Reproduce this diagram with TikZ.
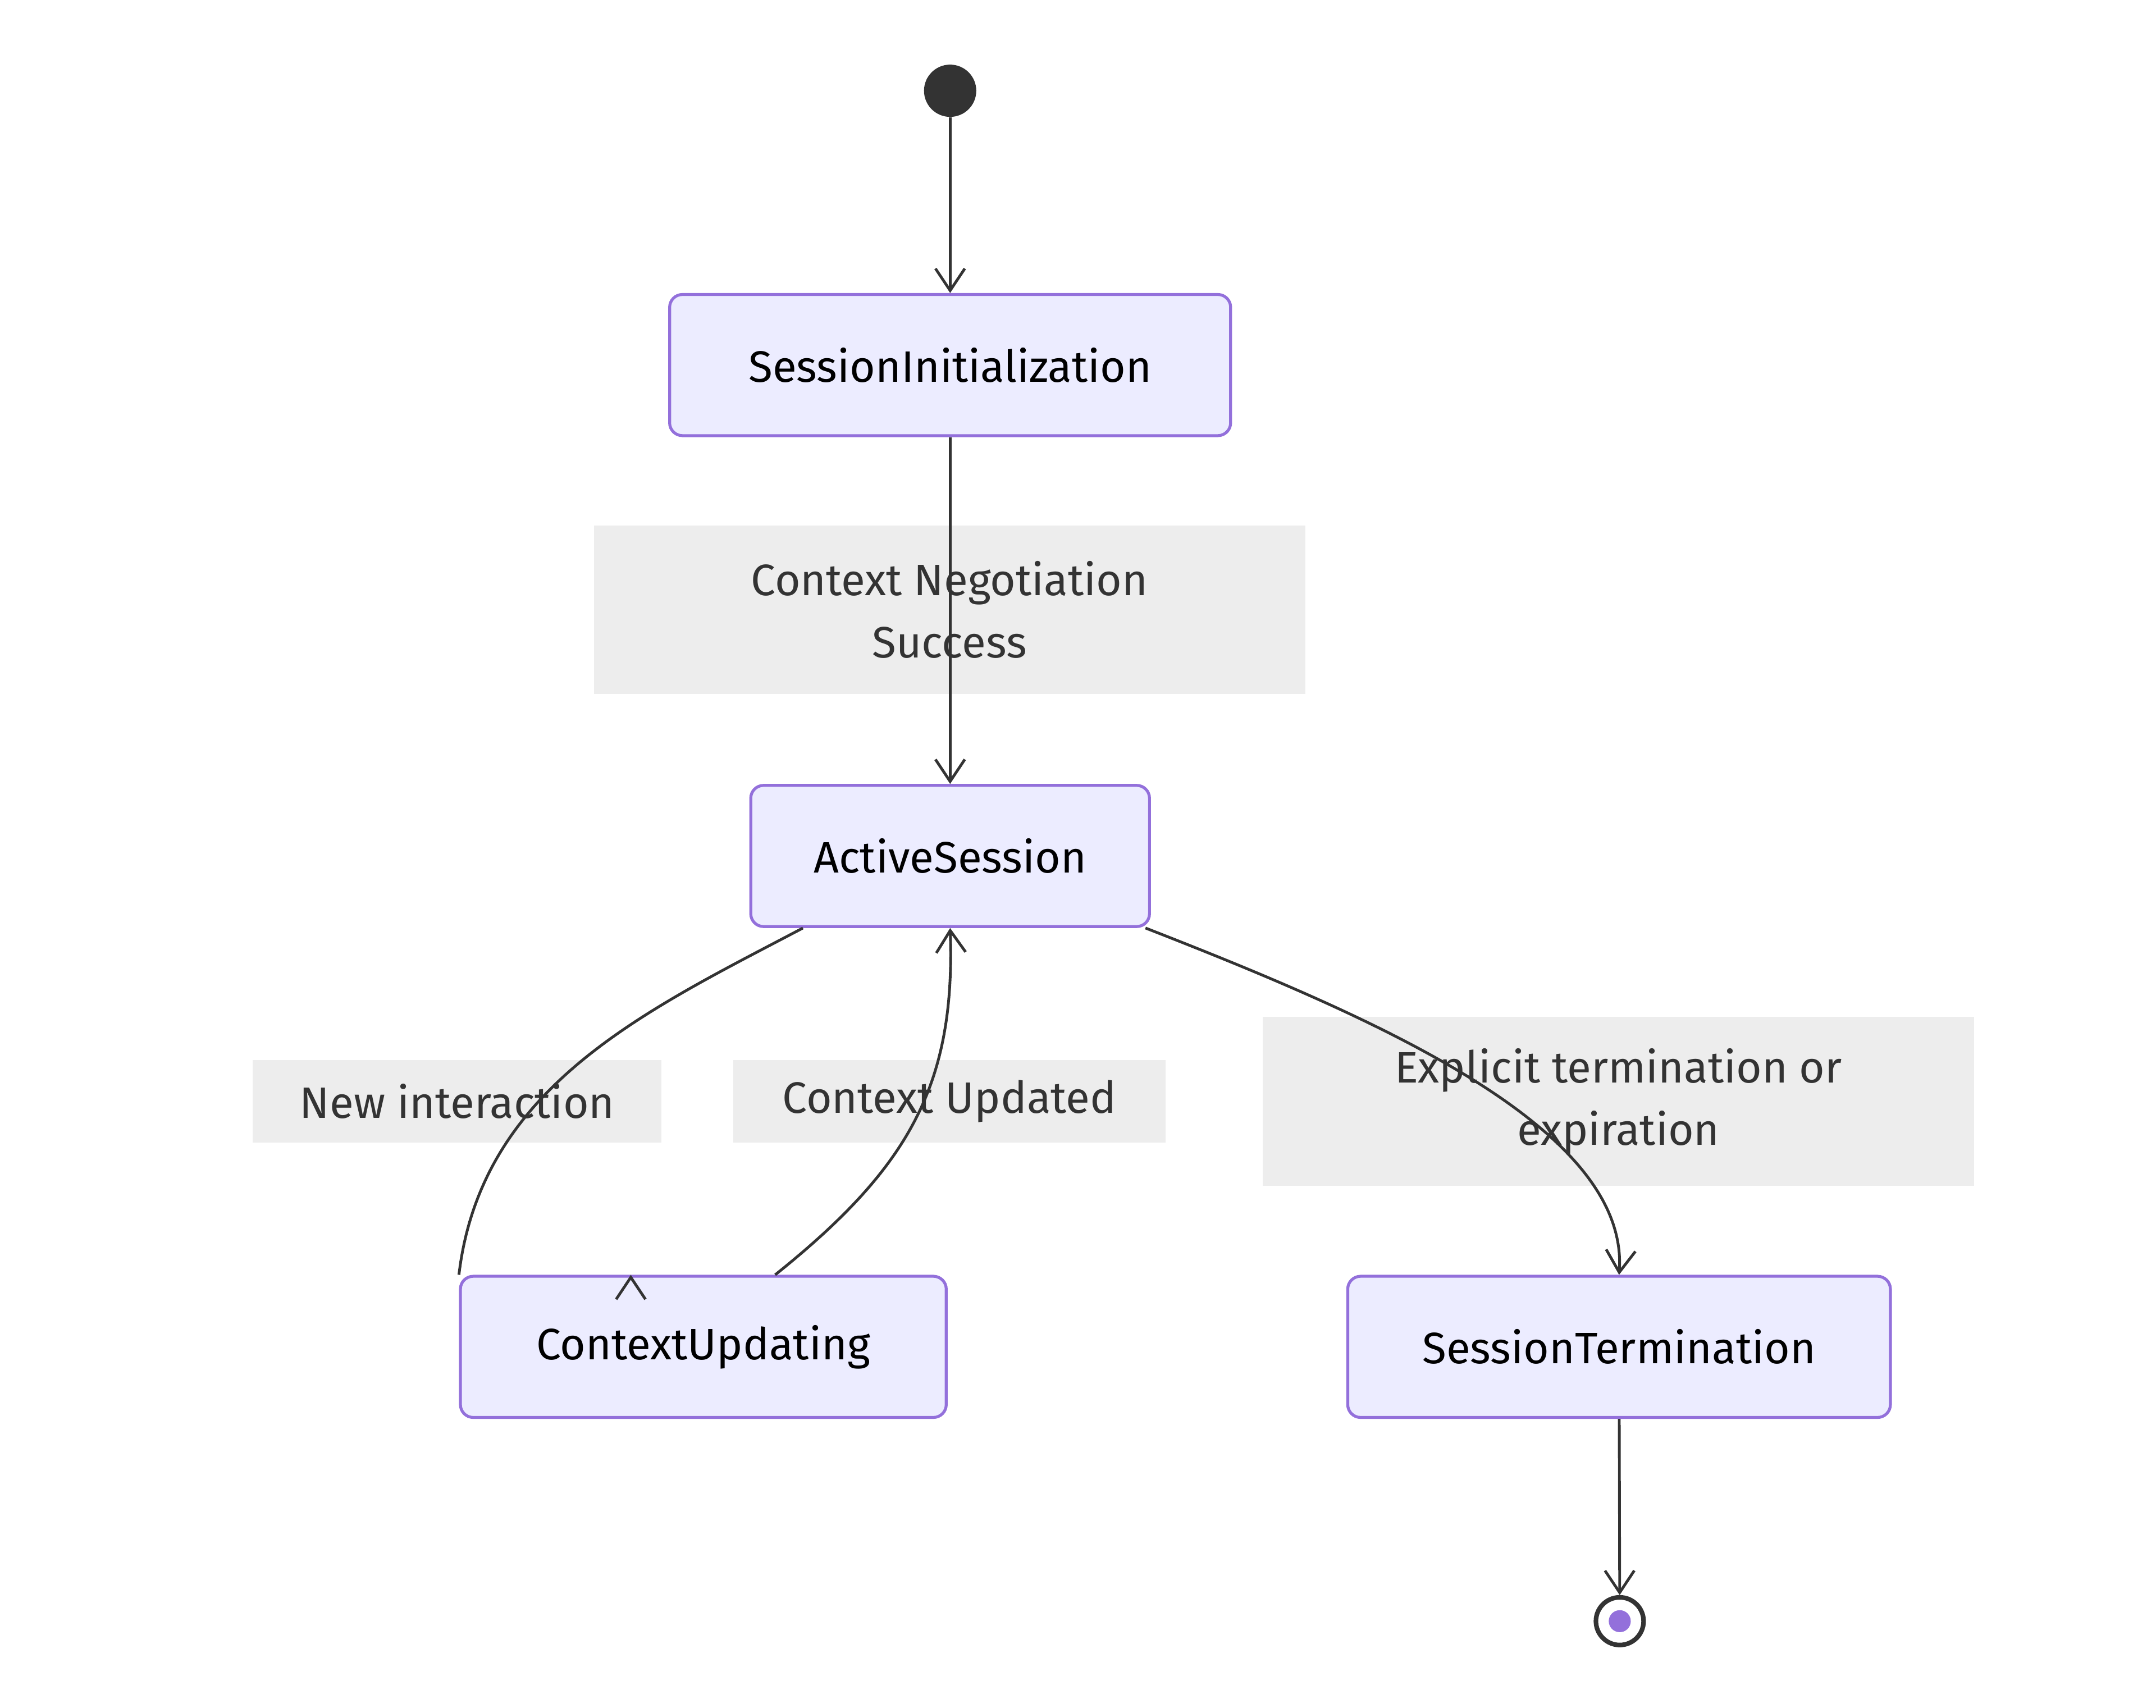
\documentclass[tikz,border=0pt]{standalone}
\usepackage{fontspec}
\setmainfont{Fira Sans}
\usetikzlibrary{arrows.meta}
\definecolor{stateFill}{HTML}{ECECFF}
\definecolor{stateLine}{HTML}{9370DB}
\definecolor{labelFill}{HTML}{EDEDED}
\definecolor{edgeLine}{HTML}{333333}
\tikzset{
	state/.style={draw=stateLine, fill=stateFill, line width=1.6pt, rounded corners=7pt, minimum height=77pt, inner sep=0pt, font=\fontsize{24}{28}\selectfont},
	edgelabel/.style={fill=labelFill, text=edgeLine, inner sep=0pt, align=center, font=\fontsize{24}{34}\selectfont},
	trans/.style={draw=edgeLine, line width=1.5pt, -{Straight Barb[length=12pt,width=16pt,line width=1.5pt]}},
}
\begin{document}
\begin{tikzpicture}[x=0.75pt,y=0.75pt,yscale=-1,xscale=1]
		\useasboundingbox (0,0) rectangle (1568,1242);
		% states
		\node[circle, fill=edgeLine, minimum size=28.5pt, inner sep=0pt] (start) at (691,66) {};
		\node[state, minimum width=306pt] (init) at (691,265.5) {SessionInitialization};
		\node[state, minimum width=217.5pt] (active) at (691,622.5) {ActiveSession};
		\node[state, minimum width=265pt] (updating) at (511.5,979.5) {ContextUpdating};
		\node[state, minimum width=296pt] (term) at (1177.5,979.5) {SessionTermination};
		\node[circle, draw=edgeLine, fill=white, line width=2.5pt, minimum size=26pt, inner sep=0pt] (stop) at (1178,1179) {};
		\node[circle, fill=stateLine, minimum size=12pt, inner sep=0pt] at (stop) {};
		% labels
		\node[edgelabel, minimum width=388pt, minimum height=92pt] (lneg) at (690.5,443.5) {Context Negotiation\\Success};
		\node[edgelabel, minimum width=223pt, minimum height=45pt] (lnew) at (332.5,801) {New interaction};
		\node[edgelabel, minimum width=236pt, minimum height=45pt] (lupd) at (690.5,801) {Context Updated};
		\node[edgelabel, minimum width=388pt, minimum height=92pt] (lexp) at (1177,801) {Explicit termination or\\expiration};
		% transitions
		\draw[trans] (start) -- (init);
		\draw[trans] (init) -- (active);
		\draw[trans] (active.south west) ++(39,0) coordinate (a1) (a1) .. controls (470,735) and (350,790) .. (updating.north west) ++(125,0) coordinate (u1);
		\draw[trans] (updating.north west) ++(230,0) coordinate (u2) (u2) .. controls (660,850) and (695,790) .. (active.south);
		\draw[trans] (active.south east) ++(-4,0) coordinate (a2) (a2) .. controls (1000,740) and (1185,820) .. (term.north);
		\draw[trans] (term) -- (stop);
\end{tikzpicture}
\end{document}
